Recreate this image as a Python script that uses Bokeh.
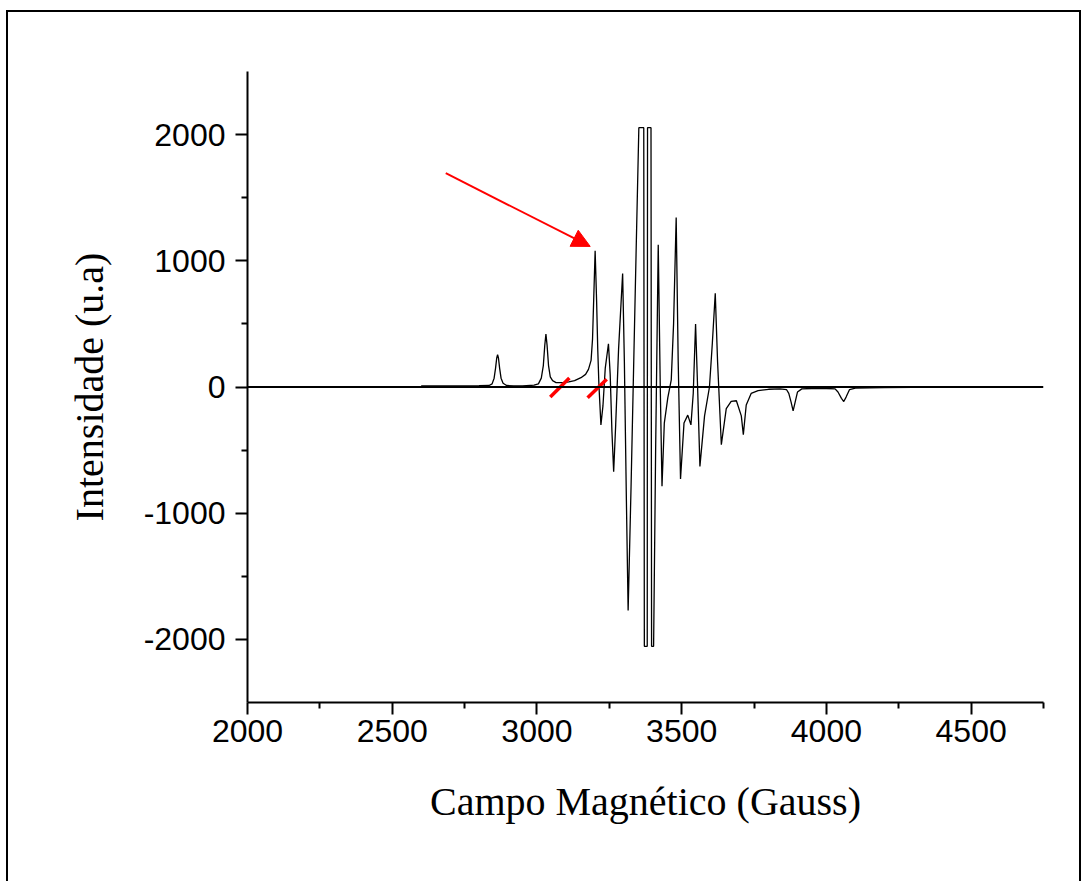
from bokeh.plotting import figure
from bokeh.models import (Range1d, FixedTicker, Span, Arrow, NormalHead,
                          ColumnDataSource)
from bokeh.embed import file_html
from bokeh.resources import INLINE

# ---- data (field in Gauss, intensity in u.a.) ----
field = [2600, 2700, 2800, 2835, 2845, 2852, 2857, 2861, 2864, 2867, 2871, 2876,
         2883, 2895, 2920, 2950, 2990, 3005, 3015, 3022, 3027, 3031, 3035, 3040,
         3046, 3054, 3066, 3090, 3110, 3130, 3152, 3168, 3178, 3187, 3192, 3196,
         3201, 3206, 3210, 3214, 3221, 3228, 3236, 3247, 3253, 3259, 3265, 3272,
         3282, 3296, 3302, 3309, 3315, 3325, 3340, 3352, 3369, 3371, 3381, 3382,
         3394, 3396, 3403, 3410, 3419, 3426, 3432, 3440, 3452, 3464, 3472, 3481,
         3488, 3496, 3508, 3521, 3532, 3540, 3548, 3555, 3563, 3579, 3596, 3606,
         3616, 3624, 3637, 3654, 3671, 3689, 3706, 3713, 3723, 3740, 3764, 3800,
         3840, 3862, 3870, 3878, 3885, 3892, 3900, 3915, 3950, 4000, 4030, 4040,
         4052, 4060, 4068, 4080, 4100, 4200, 4300, 4400]
intensity = [8, 8, 10, 12, 25, 70, 150, 230, 257, 230, 150, 70,
             30, 12, 8, 8, 15, 25, 70, 170, 330, 420, 330, 170,
             80, 50, 35, 35, 40, 50, 74, 100, 140, 211, 380, 690,
             1080, 690, 300, 20, -300, -150, 150, 343, 100, -350, -671, -300,
             300, 900, 200, -900, -1771, -800, 800, 2055, 2055, -2055, -2055, 2055,
             2055, -2055, -2055, -500, 1128, 0, -786, -286, -86, 57, 500, 1343,
             200, -729, -286, -223, -300, -50, 500, 0, -629, -229, 0, 350,
             743, 200, -457, -171, -114, -109, -229, -377, -143, -51, -29, -18,
             -15, -20, -50, -120, -190, -120, -40, -15, -12, -12, -15, -40,
             -90, -115, -80, -20, -8, -5, -3, 0]

# red annotation marks
arrow_start = (2685, 1694)
arrow_end = (3184, 1114)
slash_x0 = [3046, 3175]
slash_y0 = [-80, -86]
slash_x1 = [3112, 3241]
slash_y1 = [71, 62]

x_major = [2000, 2500, 3000, 3500, 4000, 4500]
x_minor = [2250, 2750, 3250, 3750, 4250, 4750]
y_major = [-2000, -1000, 0, 1000, 2000]
y_minor = [-1500, -500, 500, 1500]

p = figure(width=1088, height=882, output_backend="svg", toolbar_location=None,
           x_range=Range1d(2000, 4750), y_range=Range1d(-2500, 2500),
           min_border_left=247, min_border_right=45, min_border_top=71,
           min_border_bottom=180, x_axis_label="Campo Magnético (Gauss)",
           y_axis_label="Intensidade (u.a)")
p.outline_line_color = None
p.grid.visible = False
p.background_fill_color = "white"
p.border_fill_color = None

# thin frame around the whole picture (left, top and right edges)
p.styles = {
    "background-color": "white",
    "background-image": "linear-gradient(black, black), linear-gradient(black, black), linear-gradient(black, black)",
    "background-size": "2px 871px, 1075px 2px, 2px 871px",
    "background-position": "6px 10px, 6px 10px, 1079px 10px",
    "background-repeat": "no-repeat",
}

for ax in (p.xaxis[0], p.yaxis[0]):
    ax.axis_line_width = 2
    ax.axis_line_color = "black"
    ax.major_tick_line_width = 2
    ax.minor_tick_line_width = 2
    ax.major_tick_out = 12
    ax.major_tick_in = 0
    ax.minor_tick_out = 6
    ax.minor_tick_in = 0
    ax.major_label_text_font = "Liberation Sans"
    ax.major_label_text_font_size = "32px"
    ax.major_label_text_color = "black"
    ax.axis_label_text_font = "Liberation Serif"
    ax.axis_label_text_font_size = "40px"
    ax.axis_label_text_font_style = "normal"
    ax.axis_label_text_color = "black"

p.xaxis[0].ticker = FixedTicker(ticks=x_major, minor_ticks=x_minor)
p.yaxis[0].ticker = FixedTicker(ticks=y_major, minor_ticks=y_minor)
p.yaxis[0].major_label_overrides = {v: str(v) for v in y_major}
p.xaxis[0].major_label_standoff = 5
p.yaxis[0].major_label_standoff = 10
p.xaxis[0].axis_label_standoff = 34
p.yaxis[0].axis_label_standoff = 29

# zero baseline
p.add_layout(Span(location=0, dimension="width", line_color="black", line_width=2))

src = ColumnDataSource(dict(x=field, y=intensity))
p.line("x", "y", source=src, line_color="black", line_width=1.3)

# red break marks
p.segment(x0=slash_x0, y0=slash_y0, x1=slash_x1, y1=slash_y1,
          line_color="red", line_width=3.5)

# red arrow
p.add_layout(Arrow(x_start=arrow_start[0], y_start=arrow_start[1],
                   x_end=arrow_end[0], y_end=arrow_end[1],
                   line_color="red", line_width=2,
                   end=NormalHead(size=18, fill_color="red", line_color="red")))

open("out.html", "w").write(file_html(p, INLINE))
